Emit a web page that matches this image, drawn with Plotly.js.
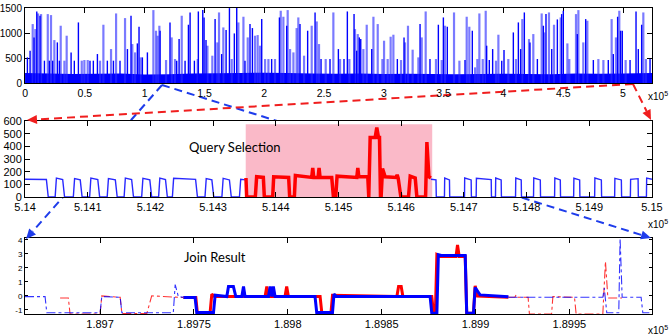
<!DOCTYPE html>
<html><head><meta charset="utf-8">
<script src="https://cdn.plot.ly/plotly-3.0.1.min.js"></script>
<style>html,body{margin:0;padding:0;background:#fff}#chart{width:672px;height:336px}</style>
</head><body><div id="chart"></div>
<script>
// ---------- DATA (x in units of 10^5) ----------
// Overview panel: tall spikes (dark and faint), dense baseline envelope
const spikeDarkX = [0.0195,0.042,0.075,0.098,0.125,0.162,0.203,0.231,0.270,0.287,0.385,0.412,0.446,0.543,0.571,0.605,0.688,0.739,0.794,0.856,0.886,0.939,0.953,0.981,1.023,1.129,1.212,1.268,1.288,1.338,1.366,1.380,1.416,1.449,1.486,1.497,1.513,1.589,1.644,1.681,1.709,1.750,1.770,1.839,1.881,1.901,1.979,2.062,2.127,2.188,2.299,2.363,2.425,2.475,2.550,2.620,2.667,2.695,2.751,2.773,2.795,2.807,2.899,3.113,3.169,3.303,3.386,3.456,3.498,3.531,3.679,3.740,3.860,3.882,3.910,3.986,4.005,4.083,4.125,4.144,4.175,4.222,4.284,4.334,4.356,4.404,4.451,4.487,4.501,4.618,4.688,4.752,4.877,4.919,4.955,4.980,4.994,5.059,5.109,5.128,5.156,5.226];
const spikeDarkY = [513,647,913,1433,1347,447,447,447,813,447,613,447,1213,447,447,580,447,447,447,680,1347,793,1127,513,613,1047,1213,447,880,447,1167,1413,447,1433,1460,1313,860,1280,580,1060,1500,993,1500,447,1180,1100,1280,480,1313,1147,1180,1047,1413,480,480,680,480,1433,1380,647,913,880,680,480,913,1180,480,1167,1313,1127,460,1047,747,460,680,447,660,1013,1213,680,1413,813,480,1147,1380,680,1273,1380,1447,980,1280,460,460,580,1327,1047,1047,460,1433,680,1167,480];
const spikeLightX = [0.064,0.086,0.109,0.134,0.190,0.217,0.245,0.298,0.329,0.348,0.474,0.496,0.524,0.627,0.655,0.719,0.761,0.836,0.897,0.920,0.967,1.073,1.095,1.109,1.123,1.179,1.226,1.254,1.310,1.444,1.525,1.566,1.608,1.622,1.658,1.728,1.784,1.826,1.862,1.923,1.945,1.965,2.007,2.035,2.090,2.138,2.160,2.196,2.216,2.244,2.271,2.285,2.333,2.397,2.439,2.458,2.514,2.578,2.634,2.712,2.759,2.782,2.829,2.857,2.913,2.949,2.988,3.002,3.032,3.057,3.080,3.144,3.177,3.202,3.241,3.289,3.317,3.350,3.436,3.484,3.512,3.587,3.632,3.693,3.715,3.763,3.782,3.799,3.827,3.852,3.938,3.958,4.041,4.105,4.158,4.214,4.250,4.320,4.342,4.381,4.423,4.479,4.535,4.551,4.607,4.627,4.668,4.702,4.794,4.836,4.905,4.941,4.969,5.022,5.170,5.192];
const spikeLightY = [1180,1080,1393,1380,1380,1360,860,1147,447,947,447,460,460,447,1167,680,1393,1300,780,613,513,1460,1047,947,1147,460,913,480,1347,480,747,547,813,1413,1113,480,1213,1327,913,947,960,747,480,480,480,1447,1327,1460,680,613,1100,1313,547,1147,1233,780,480,1413,480,480,1080,980,680,1167,1327,1180,480,847,480,927,967,460,813,1147,667,513,913,1433,480,460,1147,1413,447,1327,1127,313,480,1393,480,1447,447,967,480,480,1280,880,980,1393,1013,1413,1167,1313,793,480,1380,1460,813,1247,480,460,1280,913,1447,460,1413,480];
const baseX = [0,0.2,0.4,0.6,0.8,1.0,1.2,1.4,1.6,1.8,2.0,2.2,2.4,2.6,2.8,3.0,3.2,3.4,3.6,3.8,4.0,4.2,4.4,4.6,4.8,5.0,5.2425];
const baseY = [200,190,180,185,190,170,175,190,195,200,205,200,190,185,190,180,185,180,175,180,185,180,175,190,185,190,200];
const topTicks = [0,0.5,1,1.5,2,2.5,3,3.5,4,4.5,5];
const topTickText = ['0','0.5','1','1.5','2','2.5','3','3.5','4','4.5','5'];
const topYTicks = [0,500,1000,1500];

// Query selection panel
const midBlueX = [5.14,5.14034,5.14037,5.14048,5.14050,5.14060,5.14063,5.14077,5.14079,5.14088,5.14091,5.14103,5.14105,5.14116,5.14119,5.14131,5.14133,5.14144,5.14147,5.14158,5.14160,5.14170,5.14173,5.14186,5.14188,5.14199,5.14202,5.14213,5.14215,5.14224,5.14227,5.14235,5.14237,5.14272,5.14275,5.14287,5.14289,5.14298,5.14301,5.14314,5.14316,5.14326,5.14329,5.14342,5.14344,5.14352];
const midBlueY = [140,138,0,0,150,138,0,0,145,135,0,0,150,138,0,0,145,135,0,0,150,138,0,0,148,135,0,0,150,138,0,0,148,140,0,0,145,135,0,0,148,135,0,0,140,135];
const midBlue2X = [5.146474,5.146555,5.146560,5.146690,5.146694,5.146770,5.146774,5.147010,5.147013,5.147116,5.147120,5.147196,5.147200,5.147436,5.147440,5.147504,5.147508,5.147595,5.147599,5.147824,5.147828,5.147915,5.147919,5.148111,5.148115,5.148219,5.148223,5.148447,5.148451,5.148538,5.148542,5.148751,5.148755,5.148847,5.148851,5.149086,5.149090,5.149193,5.149197,5.149405,5.149409,5.149512,5.149516,5.149656,5.149660,5.149779,5.149783,5.149912,5.149916,5.15];
const midBlue2Y = [140,135,0,0,150,135,0,0,150,135,0,0,148,138,0,0,150,135,0,0,150,135,0,0,150,135,0,0,150,135,0,0,148,135,0,0,150,135,0,0,148,135,0,0,140,145,0,0,150,140];
const midRedX = [5.143524,5.143535,5.143673,5.143694,5.143801,5.143817,5.143950,5.143966,5.144205,5.144221,5.144296,5.144312,5.144573,5.144589,5.144605,5.144674,5.144690,5.144706,5.144892,5.144919,5.144956,5.144977,5.145292,5.145308,5.145324,5.145467,5.145483,5.145505,5.145585,5.145611,5.145638,5.145654,5.145670,5.145680,5.145702,5.145744,5.145920,5.145936,5.145952,5.145995,5.146117,5.146144,5.146224,5.146250,5.146389,5.146410,5.146442,5.146474];
const midRedY = [150,0,0,160,155,0,0,160,155,0,0,170,155,230,155,155,230,155,155,0,0,165,155,230,160,160,0,470,470,550,470,470,0,0,225,160,155,175,150,0,0,165,150,0,0,435,160,150];
const querySelX = [5.14352,5.146495];
const querySelTop = [575];
const midTicks = [5.14,5.141,5.142,5.143,5.144,5.145,5.146,5.147,5.148,5.149,5.15];
const midTickText = ['5.14','5.141','5.142','5.143','5.144','5.145','5.146','5.147','5.148','5.149','5.15'];
const midYTicks = [0,100,200,300,400,500,600];

// Join result panel
const joinBlueX = [1.897444,1.897506,1.897515,1.897604,1.897613,1.897675,1.897684,1.897710,1.897723,1.897755,1.897764,1.897772,1.897897,1.897906,1.897915,1.897923,1.897932,1.898145,1.898154,1.898238,1.898246,1.898260,1.898758,1.898767,1.898794,1.898802,1.898818,1.898945,1.898953,1.898989,1.898998,1.899024,1.899175];
const joinBlueY = [-0.12,-0.12,-1.19,-1.19,0.05,-0.05,0.67,0.67,-0.05,-0.05,0.67,-0.05,-0.05,0.67,-0.05,0.67,-0.05,-0.05,-1.19,-1.19,0.12,-0.05,-0.05,-1.24,-1.24,2.93,2.88,2.88,-1.24,-1.24,0.6,0.07,-0.07];
const joinRedX = [1.897444,1.897510,1.897518,1.897586,1.897595,1.897610,1.897879,1.897888,1.897897,1.897985,1.897994,1.898003,1.898172,1.898181,1.898230,1.898238,1.898581,1.898590,1.898604,1.898613,1.898767,1.898776,1.898786,1.898794,1.898810,1.898896,1.898904,1.898913,1.898945,1.898953,1.898989,1.898998,1.899010,1.899175];
const joinRedY = [-0.12,-0.12,-1.19,-1.19,0.12,-0.05,-0.05,0.67,-0.05,-0.05,0.67,-0.05,-0.05,-1.19,-1.19,0.05,-0.05,0.67,0.67,-0.05,-0.05,-1.24,-1.24,2.93,2.8,2.8,3.62,2.8,2.8,-1.24,-1.24,0.71,-0.02,-0.1];
const ctxBlueX = [1.8966,1.896707,1.896716,1.897000,1.897009,1.897107,1.897116,1.897390,1.897400,1.897417,1.897444,null,1.899175,1.899678,1.899686,1.899699,1.899763,1.899770,1.899781,1.899882,1.899891,1.89994];
const ctxBlueY = [-0.05,-0.05,-1.2,-1.2,-0.05,-0.1,-1.2,-1.2,0.8,-0.05,-0.1,null,-0.1,-0.1,0.55,-1.2,-1.2,4.1,-0.1,-0.1,-1.2,-1.2];
const ctxRedX = [1.896787,1.896831,1.896840,1.897000,1.897009,1.897107,1.897116,1.897249,1.897275,1.897390,1.897444,null,1.899175,1.899210,1.899216,1.899225,1.899280,1.899287,1.899405,1.899412,1.899527,1.899536,1.899678,1.899692,1.899705,1.899780];
const ctxRedY = [-0.15,-0.15,-1.3,-1.3,0.0,-0.1,-1.25,-1.25,0.0,-0.08,-0.12,null,-0.1,-0.1,0.07,-0.1,-0.1,-1.3,-1.3,-0.05,-0.1,-1.3,-1.3,2.45,-0.15,-0.15];
const botTicks = [1.897,1.8975,1.898,1.8985,1.899,1.8995];
const botTickText = ['1.897','1.8975','1.898','1.8985','1.899','1.8995'];
const botYTicks = [-1,0,1,2,3,4];

// ---------- BUILD ----------
function spikes(xs, ys){ const X=[],Y=[]; xs.forEach((x,i)=>{X.push(x,x,null);Y.push(0,ys[i],null);}); return {X,Y}; }
const sd = spikes(spikeDarkX, spikeDarkY), sl = spikes(spikeLightX, spikeLightY);
const BLUE='#0000ff', RED='#ff0000';
const traces = [
  {x: baseX, y: baseY, type:'scatter', mode:'none', fill:'tozeroy', fillcolor: BLUE, xaxis:'x', yaxis:'y', hoverinfo:'skip'},
  {x: sl.X, y: sl.Y, type:'scatter', mode:'lines', line:{color:'rgba(40,40,255,0.62)', width:2.2}, xaxis:'x', yaxis:'y'},
  {x: sd.X, y: sd.Y, type:'scatter', mode:'lines', line:{color:BLUE, width:1.4}, xaxis:'x', yaxis:'y'},
  {x: midBlueX, y: midBlueY, type:'scatter', mode:'lines', line:{color:'rgb(40,40,255)', width:1.4}, xaxis:'x2', yaxis:'y2'},
  {x: midBlue2X, y: midBlue2Y, type:'scatter', mode:'lines', line:{color:'rgb(40,40,255)', width:1.4}, xaxis:'x2', yaxis:'y2'},
  {x: midRedX, y: midRedY, type:'scatter', mode:'lines', line:{color:RED, width:3.5}, xaxis:'x2', yaxis:'y2'},
  {x: ctxRedX, y: ctxRedY, type:'scatter', mode:'lines', line:{color:'rgba(255,0,0,0.8)', width:1.1, dash:'dashdot'}, xaxis:'x3', yaxis:'y3', connectgaps:false},
  {x: ctxBlueX, y: ctxBlueY, type:'scatter', mode:'lines', line:{color:'rgba(0,0,255,0.8)', width:1.1, dash:'dashdot'}, xaxis:'x3', yaxis:'y3', connectgaps:false},
  {x: joinRedX, y: joinRedY, type:'scatter', mode:'lines', line:{color:RED, width:3}, xaxis:'x3', yaxis:'y3'},
  {x: joinBlueX, y: joinBlueY, type:'scatter', mode:'lines', line:{color:BLUE, width:3}, xaxis:'x3', yaxis:'y3'}
];

// layout geometry (pixels)
const W=672,H=336, ML=25, MR=20, MT=8, MB=22;
const PW=W-ML-MR, PH=H-MT-MB;
const pxX = X => (X-ML)/PW, pxY = Y => (H-MB-Y)/PH;
const dTop=[pxY(83),1], dMid=[pxY(197),pxY(121)], dBot=[0,pxY(238)];

const FONT = 'Liberation Sans, Arial, sans-serif';
function axBase(extra){
  return Object.assign({showgrid:false, zeroline:false, showline:true, linecolor:'#000', linewidth:1, mirror:'ticks',
    ticks:'inside', ticklen:5, tickcolor:'#000', tickfont:{family:FONT, size:11, color:'#000'}, tickmode:'array'}, extra);
}

const shapes = [];
function arrow(x0,y0,x1,y1,color){
  const dx=x1-x0, dy=y1-y0, L=Math.hypot(dx,dy), ux=dx/L, uy=dy/L;
  const hl=10, hw=4.5, bx=x1-ux*hl, by=y1-uy*hl;
  shapes.push({type:'line', xref:'paper', yref:'paper', layer:'below', x0:pxX(x0), y0:pxY(y0), x1:pxX(bx), y1:pxY(by),
    line:{color, width:2, dash:'8px,5px'}});
  const p = (X,Y)=> pxX(X).toFixed(5)+','+pxY(Y).toFixed(5);
  shapes.push({type:'path', xref:'paper', yref:'paper', layer:'above', fillcolor:color, line:{width:0, color},
    path:'M'+p(x1,y1)+' L'+p(bx-uy*hw, by+ux*hw)+' L'+p(bx+uy*hw, by-ux*hw)+' Z'});
}
const ABLUE='rgb(30,60,235)', ARED='rgb(240,30,30)';
arrow(162,85,26,239,ABLUE);
arrow(162,85,651,238,ABLUE);
arrow(633,84,27,120,ARED);
arrow(633,84,651,120,ARED);
// mask the middle plot area so the dashed connectors pass behind it
shapes.push({type:'rect', xref:'paper', yref:'paper', layer:'below', x0:0, x1:1, y0:dMid[0], y1:dMid[1], fillcolor:'#fff', line:{width:0}});
// query selection band
shapes.push({type:'rect', xref:'x2', yref:'y2', layer:'below', x0:querySelX[0], x1:querySelX[1], y0:0, y1:querySelTop[0],
  fillcolor:'rgb(250,185,200)', line:{width:0}});

const expo = (X,Y)=>({xref:'paper', yref:'paper', x:pxX(X), y:pxY(Y), text:'x10<sup>5</sup>', showarrow:false,
  font:{family:FONT, size:10, color:'#000'}, xanchor:'center', yanchor:'middle'});

const layout = {
  width:W, height:H, margin:{l:ML, r:MR, t:MT, b:MB}, paper_bgcolor:'#fff', plot_bgcolor:'#fff', showlegend:false,
  xaxis: axBase({domain:[0,1], anchor:'y', range:[-0.0005,5.2425], tickvals:topTicks, ticktext:topTickText, layer:'below traces', tickfont:{family:FONT, size:10.5, color:'#000'}}),
  yaxis: axBase({domain:dTop, anchor:'x', range:[0,1502], tickvals:topYTicks, ticktext:topYTicks.map(String), layer:'below traces', tickfont:{family:FONT, size:10, color:'#000'}}),
  xaxis2: axBase({domain:[0,1], anchor:'y2', range:[5.139999,5.150001], tickvals:midTicks, ticktext:midTickText}),
  yaxis2: axBase({domain:dMid, anchor:'x2', range:[0,601], tickvals:midYTicks, ticktext:midYTicks.map(String)}),
  xaxis3: axBase({domain:[0,1], anchor:'y3', range:[1.8966,1.89994], tickvals:botTicks, ticktext:botTickText}),
  yaxis3: axBase({domain:dBot, anchor:'x3', range:[-1.29,4.12], tickvals:botYTicks, ticktext:botYTicks.map(String), ticklen:3, tickfont:{family:FONT, size:8, color:'#000'}}),
  shapes,
  annotations: [
    {xref:'paper', yref:'paper', x:pxX(187), y:pxY(147), text:'Query Selection', showarrow:false, font:{family:'Lato, Noto Sans, sans-serif', size:13, color:'#000'}},
    {xref:'paper', yref:'paper', x:pxX(182), y:pxY(267), text:'Join Result', showarrow:false, font:{family:'Lato, Noto Sans, sans-serif', size:13, color:'#000'}},
    expo(658,96), expo(658,224), expo(658,330)
  ]
};
Plotly.newPlot('chart', traces, layout, {staticPlot:true, displayModeBar:false});
</script></body></html>
